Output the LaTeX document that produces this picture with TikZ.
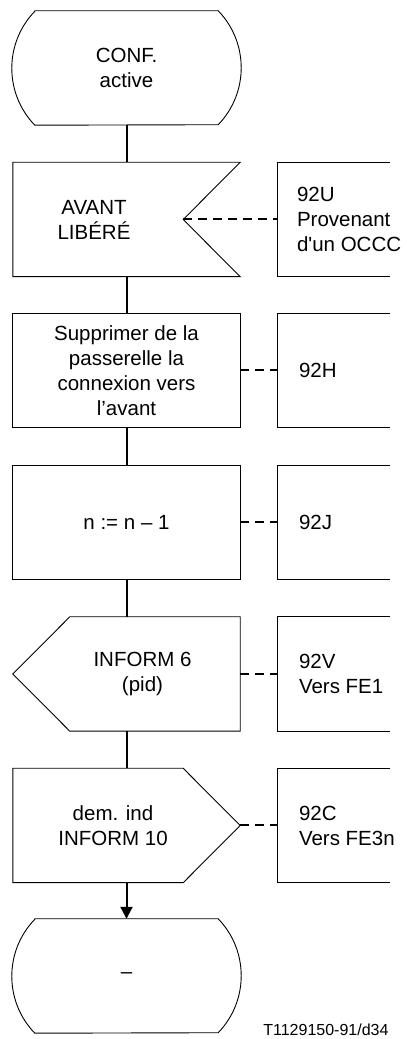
\documentclass[tikz,border=0pt]{standalone}
\usepackage{fontspec}
\setmainfont{Liberation Sans}[Ligatures=TeXOff]
\usepackage{tikz}
\usetikzlibrary{arrows.meta, calc}

\tikzset{
  sdl/.style={minimum width=227pt, minimum height=114pt, inner sep=0pt, align=center},
  cmt/.style={minimum width=112pt, minimum height=114pt, inner sep=0pt},
  txt/.style={align=center, inner sep=0pt},
  ctxt/.style={align=left, anchor=west, inner sep=0pt},
  outline/.style={line width=0.9pt},
  flow/.style={line width=2pt},
  dsh/.style={line width=2pt, dash pattern=on 9pt off 6pt}
}

\begin{document}
\begin{tikzpicture}[x=1pt, y=1pt, font=\fontsize{20.5}{25}\selectfont]
\useasboundingbox (0,0) rectangle (407,1039);
% chain of symbols
\node[sdl] (conf) at (126.5,971) {CONF.\\active};
\node[sdl] (avant) at (126.5,819.5) {};
\node[txt] (avanttxt) at ([xshift=-32.5pt]avant.center) {AVANT\\LIBÉRÉ};
\node[sdl] (suppr) at (126.5,668.5) {Supprimer de la\\passerelle la\\connexion vers\\l’avant};
\node[sdl] (decr) at (126.5,516.5) {n := n – 1};
\node[sdl] (inform) at (126.5,365) {};
\node[txt] (informtxt) at ([xshift=16pt]inform.center) {INFORM 6\\(pid)};
\node[sdl] (demind) at (126.5,213.5) {};
\node[txt] (demindtxt) at ([xshift=-13.5pt]demind.center) {dem. ind\\INFORM 10};
\node[sdl] (fin) at (126.5,63) {–};
% comments
\node[cmt] (c92u) at (334,819.5) {};
\node[ctxt] (t92u) at ([xshift=19pt]c92u.west) {92U\\Provenant\\d'un OCCC};
\node[cmt] (c92h) at (334,668.5) {};
\node[ctxt] (t92h) at ([xshift=21pt]c92h.west) {92H};
\node[cmt] (c92j) at (334,516.5) {};
\node[ctxt] (t92j) at ([xshift=21pt]c92j.west) {92J};
\node[cmt] (c92v) at (334,365) {};
\node[ctxt] (t92v) at ([xshift=21pt]c92v.west) {92V\\Vers FE1};
\node[cmt] (c92c) at (334,213.5) {};
\node[ctxt] (t92c) at ([xshift=21pt]c92c.west) {92C\\Vers FE3n};
\node[anchor=base east, font=\fontsize{16}{19}\selectfont] (ref) at (392,4) {T1129150-91/d34};

% outlines
\draw[outline] ([xshift=22pt]conf.north west) -- ([xshift=-22pt]conf.north east)
  arc[start angle=44, end angle=-44, radius=82pt] -- ([xshift=22pt]conf.south west)
  arc[start angle=224, end angle=136, radius=82pt] -- cycle;
\draw[outline] (avant.north west) -- (avant.north east) -- ([xshift=-57pt]avant.east)
  -- (avant.south east) -- (avant.south west) -- cycle;
\draw[outline] (suppr.north west) rectangle (suppr.south east);
\draw[outline] (decr.north west) rectangle (decr.south east);
\draw[outline] ([xshift=57pt]inform.north west) -- (inform.north east) -- (inform.south east)
  -- ([xshift=57pt]inform.south west) -- (inform.west) -- cycle;
\draw[outline] (demind.north west) -- ([xshift=-57pt]demind.north east) -- (demind.east)
  -- ([xshift=-57pt]demind.south east) -- (demind.south west) -- cycle;
\draw[outline] ([xshift=22pt]fin.north west) -- ([xshift=-22pt]fin.north east)
  arc[start angle=44, end angle=-44, radius=82pt] -- ([xshift=22pt]fin.south west)
  arc[start angle=224, end angle=136, radius=82pt] -- cycle;
\foreach \c in {c92u, c92h, c92j, c92v, c92c}
  \draw[outline] (\c.north east) -- (\c.north west) -- (\c.south west) -- (\c.south east);

% connectors
\draw[flow] (conf) -- (avant);
\draw[flow] (avant) -- (suppr);
\draw[flow] (suppr) -- (decr);
\draw[flow] (decr) -- (inform);
\draw[flow] (inform) -- (demind);
\draw[flow, -{Triangle[length=12pt, width=12pt]}] (demind) -- (fin);
\draw[dsh] ([xshift=-57pt]avant.east) -- (c92u.west);
\draw[dsh] (suppr) -- (c92h);
\draw[dsh] (decr) -- (c92j);
\draw[dsh] (inform) -- (c92v);
\draw[dsh] (demind) -- (c92c);
\end{tikzpicture}
\end{document}
